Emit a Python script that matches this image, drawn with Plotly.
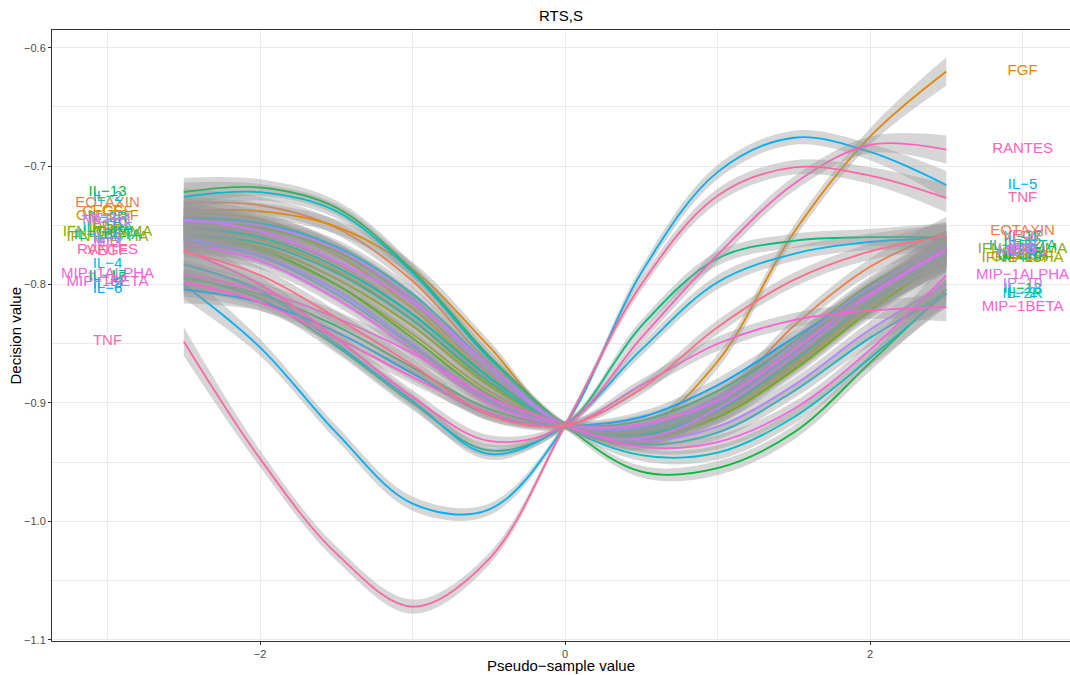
import math
import plotly.graph_objects as go

# Pseudo-sample grid on which each smoothed profile is evaluated
pseudo_x = [-2.5, -2.0, -1.5, -1.0, -0.5, 0.0, 0.5, 1.0, 1.5, 2.0, 2.5]

# Standard error of the smooth along the grid (same for every analyte)
smooth_se = [0.012, 0.007, 0.006, 0.006, 0.005, 0.003, 0.005, 0.006, 0.006, 0.007, 0.012]

analytes = [
    "EGF", "EOTAXIN", "FGF", "G−CSF", "GM−CSF", "HGF", "IFN−ALPHA", "IFN−GAMMA",
    "IL−10", "IL−12", "IL−13", "IL−15", "IL−17", "IL−1BETA", "IL−1RA", "IL−2",
    "IL−2R", "IL−4", "IL−5", "IL−6", "IL−7", "IL−8", "IP−10", "MCP−1", "MIG",
    "MIP−1ALPHA", "MIP−1BETA", "RANTES", "TNF", "VEGF",
]

# Smoothed decision value for each analyte at the pseudo-sample grid
decision = {
    "EGF":        [-0.750, -0.758, -0.782, -0.825, -0.880, -0.919, -0.928, -0.912, -0.870, -0.820, -0.775],
    "EOTAXIN":    [-0.731, -0.733, -0.752, -0.797, -0.866, -0.919, -0.935, -0.900, -0.835, -0.785, -0.755],
    "FGF":        [-0.738, -0.738, -0.751, -0.787, -0.852, -0.919, -0.922, -0.865, -0.756, -0.675, -0.620],
    "G−CSF":      [-0.739, -0.745, -0.770, -0.815, -0.875, -0.919, -0.930, -0.910, -0.868, -0.818, -0.776],
    "GM−CSF":     [-0.742, -0.750, -0.775, -0.820, -0.878, -0.919, -0.928, -0.908, -0.866, -0.817, -0.777],
    "HGF":        [-0.754, -0.762, -0.788, -0.830, -0.884, -0.919, -0.926, -0.905, -0.862, -0.812, -0.772],
    "IFN−ALPHA":  [-0.760, -0.772, -0.800, -0.842, -0.890, -0.919, -0.925, -0.908, -0.868, -0.818, -0.778],
    "IFN−GAMMA":  [-0.756, -0.768, -0.795, -0.835, -0.885, -0.919, -0.924, -0.900, -0.855, -0.805, -0.770],
    "IL−10":      [-0.748, -0.752, -0.772, -0.812, -0.872, -0.919, -0.930, -0.912, -0.872, -0.822, -0.778],
    "IL−12":      [-0.757, -0.770, -0.800, -0.845, -0.893, -0.919, -0.922, -0.895, -0.848, -0.800, -0.766],
    "IL−13":      [-0.722, -0.718, -0.735, -0.788, -0.860, -0.919, -0.958, -0.955, -0.925, -0.866, -0.804],
    "IL−15":      [-0.795, -0.808, -0.835, -0.870, -0.905, -0.919, -0.915, -0.890, -0.850, -0.808, -0.774],
    "IL−17":      [-0.793, -0.812, -0.852, -0.900, -0.940, -0.919, -0.835, -0.778, -0.763, -0.760, -0.760],
    "IL−1BETA":   [-0.758, -0.765, -0.790, -0.830, -0.882, -0.919, -0.926, -0.902, -0.858, -0.808, -0.768],
    "IL−1RA":     [-0.752, -0.760, -0.785, -0.825, -0.878, -0.919, -0.927, -0.906, -0.864, -0.815, -0.775],
    "IL−2":       [-0.726, -0.722, -0.738, -0.790, -0.862, -0.919, -0.944, -0.942, -0.912, -0.862, -0.807],
    "IL−2R":      [-0.744, -0.748, -0.768, -0.808, -0.868, -0.919, -0.935, -0.925, -0.890, -0.845, -0.808],
    "IL−4":       [-0.783, -0.805, -0.850, -0.898, -0.943, -0.919, -0.855, -0.798, -0.774, -0.764, -0.761],
    "IL−5":       [-0.800, -0.853, -0.925, -0.985, -0.990, -0.919, -0.790, -0.705, -0.676, -0.688, -0.716],
    "IL−6":       [-0.804, -0.815, -0.840, -0.875, -0.910, -0.919, -0.912, -0.885, -0.845, -0.805, -0.772],
    "IL−7":       [-0.762, -0.776, -0.808, -0.852, -0.898, -0.919, -0.922, -0.900, -0.858, -0.810, -0.772],
    "IL−8":       [-0.761, -0.775, -0.805, -0.850, -0.897, -0.919, -0.920, -0.895, -0.850, -0.802, -0.767],
    "IP−10":      [-0.747, -0.750, -0.770, -0.812, -0.872, -0.919, -0.932, -0.920, -0.885, -0.838, -0.800],
    "MCP−1":      [-0.745, -0.755, -0.780, -0.815, -0.868, -0.919, -0.930, -0.905, -0.860, -0.810, -0.772],
    "MIG":        [-0.765, -0.780, -0.812, -0.855, -0.900, -0.919, -0.918, -0.898, -0.855, -0.808, -0.770],
    "MIP−1ALPHA": [-0.791, -0.805, -0.828, -0.858, -0.895, -0.919, -0.937, -0.933, -0.905, -0.855, -0.792],
    "MIP−1BETA":  [-0.798, -0.815, -0.845, -0.878, -0.908, -0.919, -0.885, -0.850, -0.830, -0.822, -0.819],
    "RANTES":     [-0.771, -0.800, -0.845, -0.895, -0.932, -0.919, -0.845, -0.775, -0.715, -0.682, -0.686],
    "TNF":        [-0.848, -0.947, -1.027, -1.072, -1.032, -0.919, -0.800, -0.725, -0.701, -0.708, -0.727],
    "VEGF":       [-0.772, -0.792, -0.828, -0.868, -0.910, -0.919, -0.888, -0.836, -0.796, -0.772, -0.759],
}

# Positions of the name labels on either side of the profiles
label_x_left = -3
label_x_right = 3


def hcl_hex(h, c=100.0, l=65.0):
    """Polar CIE-Luv colour to sRGB hex (ggplot2-style hue palette)."""
    hr = math.radians(h)
    U, V = c * math.cos(hr), c * math.sin(hr)
    Xn, Yn, Zn = 95.047, 100.0, 108.883
    den = Xn + 15 * Yn + 3 * Zn
    un, vn = 4 * Xn / den, 9 * Yn / den
    Y = Yn * ((l + 16) / 116) ** 3 if l > 8 else Yn * l / 903.3
    u = U / (13 * l) + un
    v = V / (13 * l) + vn
    X = 9 * Y * u / (4 * v)
    Z = -X / 3 - 5 * Y + 3 * Y / v
    X, Y, Z = X / 100, Y / 100, Z / 100
    r = 3.2404542 * X - 1.5371385 * Y - 0.4985314 * Z
    g = -0.9692660 * X + 1.8760108 * Y + 0.0415560 * Z
    b = 0.0556434 * X - 0.2040259 * Y + 1.0572252 * Z

    def gam(t):
        t = 12.92 * t if t <= 0.0031308 else 1.055 * t ** (1 / 2.4) - 0.055
        return max(0, min(255, round(t * 255)))

    return "#%02X%02X%02X" % (gam(r), gam(g), gam(b))


n = len(analytes)
palette = [hcl_hex(15 + 360 * i / n) for i in range(n)]

SMOOTH = 1.0
fig = go.Figure()

for name, col in zip(analytes, palette):
    vals = decision[name]
    lower = [v - s for v, s in zip(vals, smooth_se)]
    upper = [v + s for v, s in zip(vals, smooth_se)]
    fig.add_trace(go.Scatter(
        x=pseudo_x, y=lower, mode="lines",
        line=dict(width=0, shape="spline", smoothing=SMOOTH, color="rgba(0,0,0,0)"),
        hoverinfo="skip", showlegend=False,
    ))
    fig.add_trace(go.Scatter(
        x=pseudo_x, y=upper, mode="lines", fill="tonexty",
        fillcolor="rgba(153,153,153,0.4)",
        line=dict(width=0, shape="spline", smoothing=SMOOTH, color="rgba(0,0,0,0)"),
        hoverinfo="skip", showlegend=False,
    ))
    fig.add_trace(go.Scatter(
        x=pseudo_x, y=vals, mode="lines",
        line=dict(width=1.8, shape="spline", smoothing=SMOOTH, color=col),
        hoverinfo="skip", showlegend=False,
    ))

label_font = dict(family="Liberation Sans, Arial, sans-serif", size=15, color=palette)
fig.add_trace(go.Scatter(
    x=[label_x_left] * n, y=[decision[a][0] for a in analytes],
    mode="text", text=analytes, textposition="middle center",
    textfont=label_font, hoverinfo="skip", showlegend=False, cliponaxis=True,
))
fig.add_trace(go.Scatter(
    x=[label_x_right] * n, y=[decision[a][-1] for a in analytes],
    mode="text", text=analytes, textposition="middle center",
    textfont=label_font, hoverinfo="skip", showlegend=False, cliponaxis=True,
))

grid = "#EBEBEB"
fig.update_layout(
    width=1070, height=675,
    margin=dict(l=52, r=0, t=30, b=34),
    paper_bgcolor="white", plot_bgcolor="white",
    font=dict(family="Liberation Sans, Arial, sans-serif", color="black"),
    xaxis=dict(
        range=[-3.364, 3.311], tickmode="array", tickvals=[-2, 0, 2],
        showgrid=True, gridcolor=grid, gridwidth=1, zeroline=False,
        minor=dict(tickmode="array", tickvals=[-3, -1, 1, 3], showgrid=True,
                   gridcolor=grid, gridwidth=0.8, ticks=""),
        showline=True, linecolor="#333333", linewidth=1, mirror=True,
        ticks="outside", ticklen=3, tickcolor="#333333",
        tickfont=dict(size=11, color="#4D4D4D"),
    ),
    yaxis=dict(
        range=[-1.101, -0.585], tickmode="array",
        tickvals=[-1.1, -1.0, -0.9, -0.8, -0.7, -0.6], tickformat=".1f",
        showgrid=True, gridcolor=grid, gridwidth=1, zeroline=False,
        minor=dict(tickmode="array", tickvals=[-1.05, -0.95, -0.85, -0.75, -0.65],
                   showgrid=True, gridcolor=grid, gridwidth=0.8, ticks=""),
        showline=True, linecolor="#333333", linewidth=1,
        ticks="outside", ticklen=3, tickcolor="#333333",
        tickfont=dict(size=11, color="#4D4D4D"),
    ),
    annotations=[
        dict(text="RTS,S", xref="paper", yref="paper", x=0.5, y=1.0245,
             xanchor="center", yanchor="middle", showarrow=False,
             font=dict(size=15, color="black")),
        dict(text="Pseudo−sample value", xref="paper", yref="paper", x=0.5, y=-0.0393,
             xanchor="center", yanchor="middle", showarrow=False,
             font=dict(size=15, color="black")),
        dict(text="Decision value", xref="paper", yref="paper", x=-0.0363, y=0.5,
             xanchor="center", yanchor="middle", showarrow=False, textangle=-90,
             font=dict(size=15, color="black")),
    ],
)

fig.write_html("out.html")
